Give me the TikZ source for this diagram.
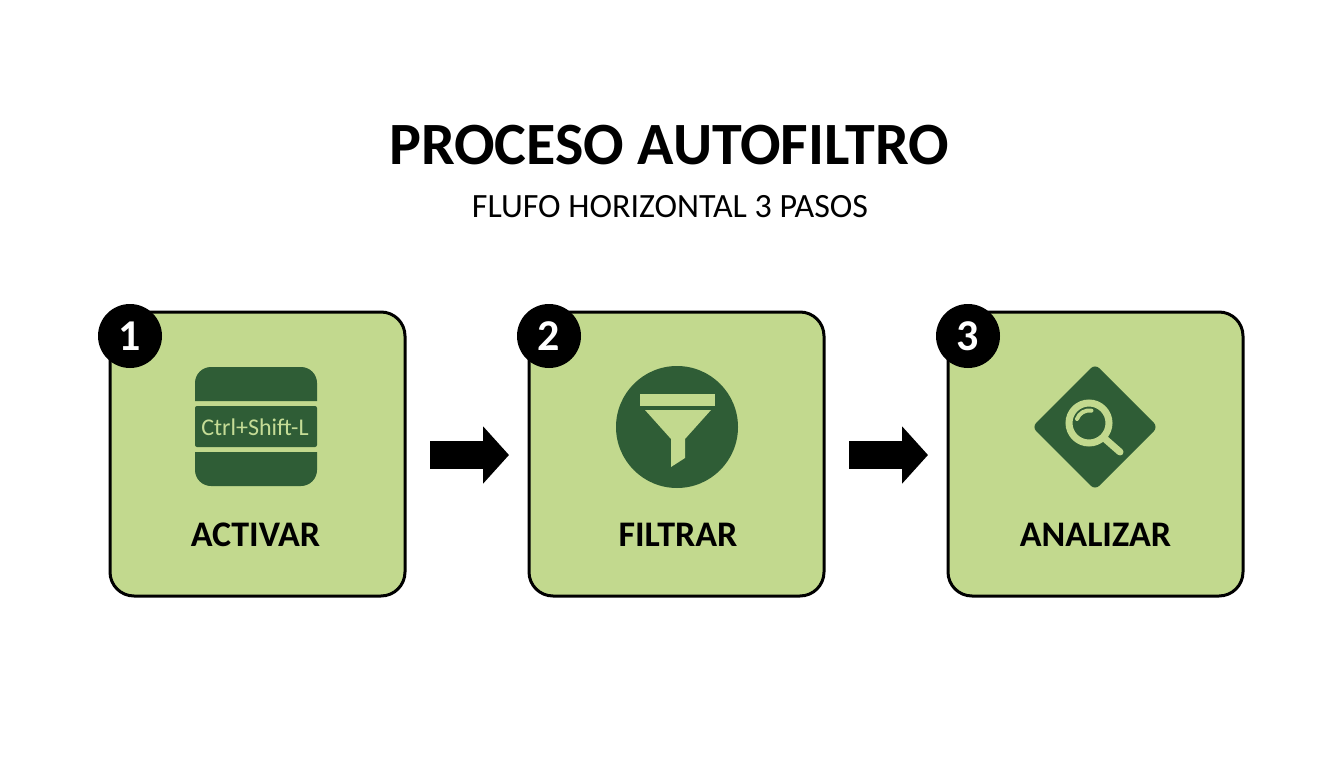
\documentclass[tikz,border=0pt]{standalone}
\usepackage{fontspec}
\setmainfont{Carlito}
\usetikzlibrary{positioning,arrows.meta}
\definecolor{cardgreen}{HTML}{C2D98E}
\definecolor{icongreen}{HTML}{2F5D36}
\definecolor{icontext}{HTML}{C5DC96}
\tikzset{
	card/.style={draw=black,line width=3pt,fill=cardgreen,rounded corners=24pt,minimum width=295pt,minimum height=284pt,inner sep=0pt,outer sep=0pt},
	badge/.style={circle,fill=black,text=white,minimum size=64pt,inner sep=0pt,font=\fontsize{44}{48}\selectfont\bfseries},
	cardlabel/.style={font=\fontsize{36}{40}\selectfont\bfseries,inner sep=0pt},
	flowarrow/.style={line width=28pt,-{Triangle[length=26pt,width=56pt]}},
}
\begin{document}
\begin{tikzpicture}[x=1pt,y=-1pt]
	\useasboundingbox (0,0) rectangle (1344,768);

	\node[inner sep=0pt,font=\fontsize{60}{66}\selectfont\bfseries] (title) at (669,145) {PROCESO AUTOFILTRO};
	\node[inner sep=0pt,font=\fontsize{34}{40}\selectfont] (subtitle) at (670,207) {FLUFO HORIZONTAL 3 PASOS};

	\node[card] (activar) at (257.5,454) {};
	\node[card,right=124pt of activar] (filtrar) {};
	\node[card,right=124pt of filtrar] (analizar) {};

	\node[badge] (uno) at (130,336) {1};
	\node[badge] (dos) at (549,336) {2};
	\node[badge] (tres) at (968,336) {3};

	\node[cardlabel] (lblactivar) at (255.5,535) {ACTIVAR};
	\node[cardlabel] (lblfiltrar) at (678,535) {FILTRAR};
	\node[cardlabel] (lblanalizar) at (1095.5,535) {ANALIZAR};

	\draw[flowarrow,shorten <=25pt,shorten >=20pt] ([yshift=-1pt]activar.east) -- ([yshift=-1pt]filtrar.west);
	\draw[flowarrow,shorten <=25pt,shorten >=20pt] ([yshift=-1pt]filtrar.east) -- ([yshift=-1pt]analizar.west);

	\fill[icongreen] (195,401) -- (195,383) arc (180:270:16) -- (301,367) arc (270:360:16) -- (317,401) -- cycle;
	\fill[icongreen,rounded corners=2pt] (195,406) rectangle (317,447);
	\fill[icongreen] (195,452) -- (195,470) arc (180:90:16) -- (301,486) arc (90:0:16) -- (317,452) -- cycle;
	\node[text=icontext,inner sep=0pt,font=\fontsize{24}{28}\selectfont] (atajo) at (255,427) {Ctrl+Shift-L};

	\fill[icongreen] (677,427) circle (61);
	\fill[cardgreen] (640,394) rectangle (715,406);
	\fill[cardgreen] (645,410) -- (711,410) -- (685,439) -- (685,458) -- (671,467) -- (671,439) -- cycle;

	\fill[icongreen,rounded corners=6pt] (1095,364) -- (1158,427) -- (1095,490) -- (1032,427) -- cycle;
	\draw[cardgreen,line width=7pt] (1089,423) circle (20);
	\draw[cardgreen,line width=7pt,line cap=round] (1104,438) -- (1120,452);
	\draw[cardgreen,line width=4pt,line cap=round] (1077,419) arc (200:280:13);
\end{tikzpicture}
\end{document}
